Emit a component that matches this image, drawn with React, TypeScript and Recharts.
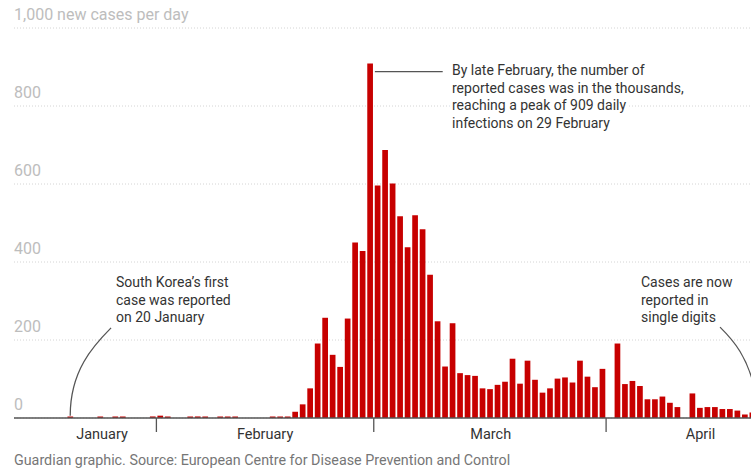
import React from 'react'
import { BarChart, Bar, XAxis, YAxis, CartesianGrid, ReferenceLine } from 'recharts'

// daily new cases, South Korea, from 13 January 2020
const januaryCases = [0, 0, 0, 0, 0, 0, 0, 1, 0, 0, 0, 1, 0, 1, 1, 0, 0, 0, 4]
const februaryCases = [
  6, 3, 0, 0, 2, 4, 1, 0, 3, 3, 1, 0, 0, 0, 0, 1, 1, 2, 16, 35, 76, 191, 257, 162,
  131, 255, 450, 428, 909,
]
const marchCases = [
  596, 687, 601, 517, 438, 520, 484, 367, 248, 132, 243, 115, 110, 108, 76, 74, 85,
  93, 152, 88, 147, 98, 65, 76, 101, 104, 91, 147, 106, 79, 126,
]
const aprilCases = [0, 191, 87, 95, 82, 48, 48, 55, 39, 28, 0, 63, 26, 28, 28, 23, 23, 19, 9, 14]

const monthNames = ['January', 'February', 'March', 'April']
const monthLabelAt = [11.75, 33.5, 63.6, 91.6] // day index under each month label
const monthBreaks = [19, 48, 79] // first day of Feb, Mar, Apr
const yTicks = [0, 200, 400, 600, 800, 1000]

const allCases = [...januaryCases, ...februaryCases, ...marchCases, ...aprilCases]
const data = allCases.map((cases, i) => ({ day: i + 0.5, cases }))

const FONT = 'Roboto, "Liberation Sans", sans-serif'
const RED = '#c70000'
const INK = '#333'
const LINE = '#555'
const PLOT_LEFT = 14

function MonthTick({ x, y, payload }: any) {
  const v = payload.value
  if (monthBreaks.includes(v)) {
    return <line x1={x} x2={x} y1={y} y2={y + 14} stroke={LINE} strokeWidth={1.3} />
  }
  const i = monthLabelAt.indexOf(v)
  return (
    <text x={x} y={y + 21} textAnchor="middle" fontFamily={FONT} fontSize={14.5} fill={INK}>
      {monthNames[i]}
    </text>
  )
}

function ValueTick({ y, payload }: any) {
  const label = payload.value === 1000 ? '1,000 new cases per day' : String(payload.value)
  return (
    <text x={PLOT_LEFT} y={y - 8} textAnchor="start" fontFamily={FONT} fontSize={16} fill="#bdbdbd">
      {label}
    </text>
  )
}

// curved leader line between the two ends of a reference segment
const curve = (c1x: number, c1y: number, c2x: number, c2y: number) => (props: any) => {
  const { x1, y1, x2, y2 } = props
  const dx = x2 - x1
  const dy = y2 - y1
  const d = `M${x1},${y1} C${x1 + c1x * dx},${y1 + c1y * dy} ${x1 + c2x * dx},${y1 + c2y * dy} ${x2},${y2}`
  return <path d={d} fill="none" stroke={LINE} strokeWidth={1.3} />
}

function Note({ x, y, lines }: { x: number; y: number; lines: string[] }) {
  return (
    <text
      x={x}
      y={y}
      fontFamily={FONT}
      fontSize={14}
      fill={INK}
      stroke="#fff"
      strokeWidth={6}
      strokeLinejoin="round"
      paintOrder="stroke"
    >
      {lines.map((l, i) => (
        <tspan key={i} x={x} dy={i === 0 ? 0 : 17.6}>
          {l}
        </tspan>
      ))}
    </text>
  )
}

export default function App() {
  return (
    <div style={{ position: 'relative', width: 751, height: 470, overflow: 'hidden', background: '#fff' }}>
      <style>{'body{margin:0}'}</style>
      <BarChart
        width={760}
        height={470}
        data={data}
        margin={{ top: 28, right: 4, left: PLOT_LEFT - 1, bottom: 22 }}
      >
        <CartesianGrid vertical={false} stroke="#d4d4d4" strokeDasharray="1 2" />
        <YAxis
          type="number"
          domain={[0, 1000]}
          ticks={yTicks}
          width={1}
          axisLine={false}
          tickLine={false}
          tickSize={0}
          tickMargin={0}
          tick={<ValueTick />}
          interval={0}
        />
        <XAxis
          type="number"
          dataKey="day"
          domain={[0, 99]}
          ticks={[...monthBreaks, ...monthLabelAt]}
          height={30}
          interval={0}
          tickLine={false}
          tickSize={0}
          tickMargin={0}
          axisLine={{ stroke: LINE, strokeWidth: 1.5 }}
          tick={<MonthTick />}
        />
        <Bar
          dataKey="cases"
          fill={RED}
          barSize={5.7}
          minPointSize={(v: number) => (v > 0 ? 1.5 : 0)}
          isAnimationActive={false}
        />
        <ReferenceLine
          segment={[
            { x: 48.15, y: 888 },
            { x: 57.2, y: 888 },
          ]}
          stroke={LINE}
          strokeWidth={1.3}
        />
        <ReferenceLine
          segment={[
            { x: 7.5, y: 6 },
            { x: 12.95, y: 231 },
          ]}
          shape={curve(0, 0.51, 0.56, 0.795)}
        />
        <ReferenceLine
          segment={[
            { x: 94.2, y: 233 },
            { x: 99, y: 60 },
          ]}
          shape={curve(0.36, 0.19, 0.78, 0.43)}
        />
      </BarChart>
      <svg
        width={751}
        height={470}
        style={{ position: 'absolute', left: 0, top: 0, pointerEvents: 'none' }}
      >
        <Note
          x={452}
          y={75}
          lines={[
            'By late February, the number of',
            'reported cases was in the thousands,',
            'reaching a peak of 909 daily',
            'infections on 29 February',
          ]}
        />
        <Note x={116} y={287} lines={['South Korea\u2019s first', 'case was reported', 'on 20 January']} />
        <Note x={641} y={287} lines={['Cases are now', 'reported in', 'single digits']} />
        <text x={PLOT_LEFT} y={465} fontFamily={FONT} fontSize={14.3} fill="#767676">
          Guardian graphic. Source: European Centre for Disease Prevention and Control
        </text>
      </svg>
    </div>
  )
}
